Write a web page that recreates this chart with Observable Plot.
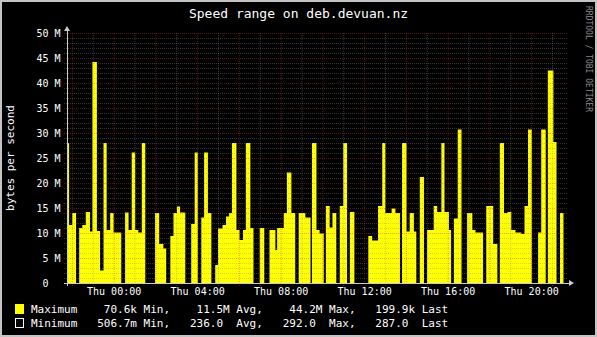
<!DOCTYPE html>
<html><head><meta charset="utf-8">
<script src="https://cdn.jsdelivr.net/npm/d3@7"></script>
<script src="https://cdn.jsdelivr.net/npm/@observablehq/plot@0.6"></script>
<style>
html,body{margin:0;padding:0;background:#000;}
svg{display:block;}
svg text{white-space:pre;}
</style></head><body><div id="chart"></div>
<script>
// ---- data ----
const title = "Speed range on deb.devuan.nz";
const yTitle = "bytes per second";
const watermark = "RRDTOOL / TOBI OETIKER";
// start of each step, minutes relative to Thu 00:00
const stepStartMin = [-134,-128,-119,-108,-99,-90,-80,-68,-61,-48,
  -39,-29,-20,-10,0,22,33,43,52,62,
  71,81,91,119,131,143,151,163,172,182,
  191,206,223,233,242,252,260,271,281,292,
  300,313,323,332,340,353,362,372,380,393,
  402,420,433,448,465,470,489,498,511,522,
  532,551,566,570,583,592,604,610,621,629,
  640,650,660,671,679,692,732,743,760,772,
  781,799,810,823,829,842,851,863,870,880,
  892,901,920,930,942,951,964,970,978,989,
  1000,1016,1031,1040,1062,1071,1091,1103,1110,1122,
  1132,1143,1155,1172,1181,1191,1202,1220,1229,1242,
  1248,1264,1273,1283,1293];
// maximum speed in MB/s for each step
const maximumM = [28,11.6,14,0,11,11.6,14.2,10.3,44.2,10.4,
  2.5,28,10.6,14,10.1,0,14.1,10.6,26.1,10.6,
  10.1,28,0,14,7.8,6.9,0,9.4,14,15.3,
  14.1,0,11.8,26.1,0,13.1,26.1,14,0,3.6,
  10.9,11.6,13.3,14,28,10.6,8.6,10.6,28,11,
  0,11,0,10.6,6.6,11,14,22.1,14,0,
  14,13.1,0,28,10.6,9.9,0,15.4,11.1,14,
  0,15.4,28,0,14.2,0,9.4,8.5,15.4,28,
  14,14.9,14,0,28,10.3,14,10.3,0,21.2,
  0,10.6,15.4,14.2,28,14.2,10.6,0,12.9,30.7,
  0,14,10.6,10.1,0,15.4,7.8,0,28,14,
  14.2,10.6,10.1,9.8,15.4,30.7,0,10.1,30.7,0,
  42.5,28.2,0,14,0];
const xDomainMin = [-134, 1306];
const xTickHours = [0,4,8,12,16,20];
const xTickLabels = ["Thu 00:00","Thu 04:00","Thu 08:00","Thu 12:00","Thu 16:00","Thu 20:00"];
const yTickValuesM = [0,5,10,15,20,25,30,35,40,45,50];
const yTickLabels = ["0  ","5 M","10 M","15 M","20 M","25 M","30 M","35 M","40 M","45 M","50 M"];
const legendNames = ["Maximum","Minimum"];
const legendColors = ["#ffff00","#000000"];
const maximumStats = ["70.6k","11.5M","44.2M","199.9k"];
const minimumStats = ["506.7m","236.0 ","292.0 ","287.0 "];
const statWords = ["Min,","Avg,","Max,","Last"];

// ---- build ----
const data = stepStartMin.map((t,i)=>({t, v: maximumM[i]*1e6}));
const minorY = d3.range(0,51).filter(d=>d%5!==0).map(d=>d*1e6);
const majorY = yTickValuesM.map(d=>d*1e6);
const hours = d3.range(-2, 22);
const minorX = hours.filter(h=>h%2!==0).map(h=>h*60);
const majorX = hours.filter(h=>h%2===0).map(h=>h*60);
const xLab = new Map(xTickHours.map((h,i)=>[h*60, xTickLabels[i]]));
const yLab = new Map(yTickValuesM.map((v,i)=>[v*1e6, yTickLabels[i]]));
const FONT = "'DejaVu Sans Mono', monospace";

const minorStyle = {stroke:"#8c8c8c", strokeOpacity:0.38, strokeDasharray:"1,1"};
const majorStyle = {stroke:"#c83232", strokeOpacity:0.42, strokeDasharray:"1,1"};

const chart = Plot.plot({
  width: 597, height: 337,
  marginLeft: 67, marginRight: 29, marginTop: 33, marginBottom: 54,
  style: {background:"#000", color:"#fff", fontFamily: FONT, fontSize:"10px"},
  x: {domain: xDomainMin},
  y: {domain: [0, 50e6]},
  marks: [
    Plot.areaY(data, {x:"t", y:"v", curve:"step-after", fill:"#ffff00"}),
    Plot.ruleY(minorY, {...minorStyle, insetLeft:-3}),
    Plot.ruleX(minorX, {...minorStyle, insetBottom:-3}),
    Plot.ruleY(majorY, {...majorStyle, insetLeft:-3}),
    Plot.ruleX(majorX, {...majorStyle, insetBottom:-3}),
    Plot.axisX({ticks: xTickHours.map(h=>h*60), tickFormat: d=>xLab.get(d), tickSize:0, tickPadding:4, label:null, fontSize:10}),
    Plot.axisY({ticks: majorY, tickFormat: d=>yLab.get(d), tickSize:0, tickPadding:7, label:null, fontSize:10}),
    Plot.ruleY([0], {stroke:"#cccccc", insetLeft:-3, insetRight:-2}),
    Plot.ruleX([xDomainMin[0]], {stroke:"#cccccc", insetTop:-3, insetBottom:-3})
  ]
});
document.getElementById("chart").appendChild(chart);

// ---- decorations ----
const svg = d3.select(chart);
const W = 597, H = 337;
const xS = chart.scale("x"), yS = chart.scale("y");
const x0 = xS.apply(xDomainMin[0]), x1 = xS.apply(xDomainMin[1]);
const yb = yS.apply(0), yt = yS.apply(50e6);
// arrows
svg.append("path").attr("d", `M${x0-3},${yt-2}L${x0+3},${yt-2}L${x0},${yt-7}Z`).attr("fill","#cccccc");
svg.append("path").attr("d", `M${x1+1},${yb-3}L${x1+1},${yb+3}L${x1+6},${yb}Z`).attr("fill","#cccccc");
// border
svg.append("rect").attr("x",1).attr("y",1).attr("width",W-2).attr("height",H-2)
  .attr("fill","none").attr("stroke","#c4c4c4").attr("stroke-width",2);
// title
svg.append("text").attr("x",298.5).attr("y",18).attr("text-anchor","middle")
  .attr("fill","#fff").attr("font-family",FONT).attr("font-size",13).text(title);
// y title
svg.append("text").attr("transform",`translate(14,${(yb+yt)/2}) rotate(-90)`).attr("text-anchor","middle")
  .attr("fill","#fff").attr("font-family",FONT).attr("font-size",11).text(yTitle);
// watermark
svg.append("text").attr("transform",`translate(586,6) rotate(90)`).attr("text-anchor","start")
  .attr("fill","#8a8a8a").attr("font-family",FONT).attr("font-size",8).text(watermark);
// legend
const rows = [maximumStats, minimumStats];
rows.forEach((stats,i)=>{
  const y = 313 + i*14;
  svg.append("rect").attr("x",15.5).attr("y",y-8.5).attr("width",8).attr("height",9)
    .attr("fill",legendColors[i]).attr("stroke", i===0?"#ffff00":"#ffffff").attr("stroke-width",1);
  let s = legendNames[i];
  stats.forEach((v,k)=>{ s += v.padStart(9) + " " + statWords[k]; });
  svg.append("text").attr("x",31).attr("y",y).attr("text-anchor","start").attr("fill","#fff")
    .attr("font-family",FONT).attr("font-size",11).text(s);
});
</script></body></html>
